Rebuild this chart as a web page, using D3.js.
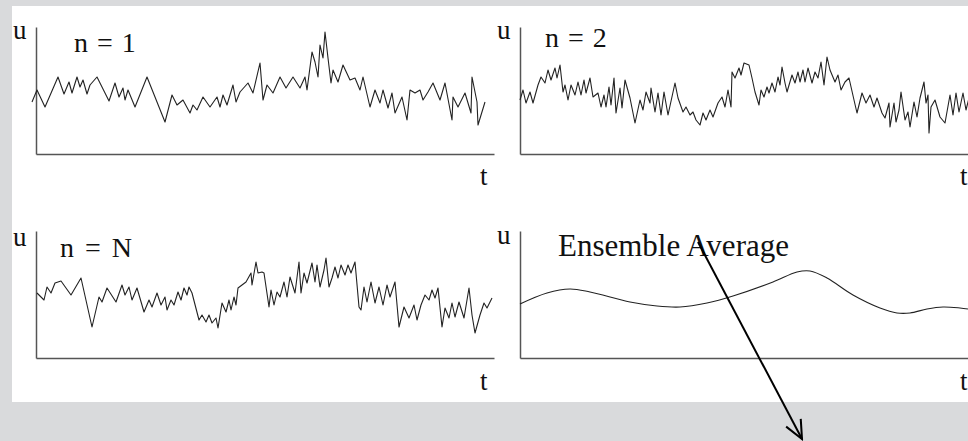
<!DOCTYPE html>
<html>
<head>
<meta charset="utf-8">
<script src="https://cdn.jsdelivr.net/npm/d3@7"></script>
<style>
  html, body { margin: 0; padding: 0; background: #d9dadc; }
  svg { display: block; }
  text { font-family: "Liberation Serif", "Times New Roman", serif; fill: #111; }
</style>
</head>
<body>
<div id="chart"></div>
<script>
// realisations u(t) (t and u in plot units)
const trace1 = [
  [-4,52],[1,64],[9,47],[22,77],[28,60],[33,72],[36,61],[41,77],[44,67],[47,74],[51,60],[54,69],
  [61,77],[73,53],[79,71],[83,57],[87,66],[89,54],[92,64],[99,47],[111,77],[129,32],[136,59],
  [141,49],[147,54],[154,41],[157,49],[161,44],[167,57],[174,47],[181,57],[184,47],[187,59],
  [191,49],[197,69],[200,52],[204,62],[212,71],[217,61],[224,91],[227,54],[231,69],[237,61],
  [244,77],[250,66],[257,77],[264,66],[269,77],[271,64],[276,102],[279,92],[282,77],[284,109],
  [287,96],[289,122],[292,96],[295,71],[297,84],[302,72],[307,89],[314,74],[319,76],[324,64],
  [327,77],[334,47],[339,64],[344,51],[347,64],[352,46],[356,61],[359,41],[366,57],[371,34],
  [374,64],[379,61],[384,64],[387,54],[392,62],[397,71],[404,54],[409,71],[416,34],[417,57],
  [422,47],[429,61],[435,41],[436,77],[441,52],[442,29],[449,52]
];

const trace2 = [
  [0,54],[3,64],[6,51],[10,62],[13,51],[18,69],[21,77],[25,71],[28,84],[31,74],[35,86],[37,76],
  [40,89],[43,62],[45,69],[48,54],[51,69],[55,59],[58,72],[61,59],[64,74],[66,61],[70,76],[73,57],
  [78,61],[81,47],[84,59],[86,47],[89,67],[91,49],[94,76],[96,41],[100,66],[102,46],[105,74],
  [110,56],[115,31],[120,54],[123,44],[126,62],[130,51],[131,66],[135,42],[138,61],[141,39],
  [144,62],[148,39],[155,71],[158,56],[163,42],[166,47],[170,39],[173,42],[176,34],[180,29],
  [183,41],[186,34],[190,44],[193,37],[198,51],[202,57],[205,47],[208,64],[211,47],[212,82],
  [215,76],[219,86],[221,79],[224,91],[229,89],[232,76],[235,62],[239,49],[241,64],[244,57],
  [247,67],[249,61],[252,71],[255,62],[258,77],[260,69],[262,87],[265,71],[267,62],[272,79],
  [275,71],[278,82],[280,72],[283,84],[285,72],[288,86],[292,71],[295,82],[298,76],[301,92],
  [304,69],[307,97],[310,84],[315,72],[318,79],[321,64],[325,72],[329,76],[334,54],[337,41],
  [342,61],[346,51],[350,59],[354,47],[357,56],[362,41],[365,36],[369,51],[370,27],[374,51],
  [376,32],[379,44],[381,62],[385,34],[388,42],[390,27],[394,52],[397,37],[400,56],[404,72],
  [406,51],[408,59],[409,21],[411,47],[415,54],[420,37],[425,31],[430,59],[433,39],[436,61],
  [439,42],[443,61],[446,44],[449,56]
];

const traceN = [
  [1,65],[8,58],[11,71],[15,65],[19,75],[25,77],[35,63],[45,80],[56,31],[63,61],[66,56],[71,70],
  [80,56],[86,73],[89,63],[93,71],[96,58],[101,70],[108,46],[113,58],[116,51],[121,65],[125,53],
  [129,61],[131,48],[135,58],[138,53],[142,66],[145,58],[148,70],[151,63],[153,71],[156,65],
  [163,38],[166,43],[170,36],[173,43],[176,35],[180,40],[182,30],[186,55],[190,46],[193,58],
  [195,48],[198,61],[200,53],[202,70],[210,76],[215,85],[216,73],[220,96],[222,85],[226,86],
  [228,85],[233,51],[235,68],[238,53],[241,66],[244,61],[248,76],[251,61],[254,81],[259,65],
  [263,96],[265,65],[268,85],[271,75],[276,95],[279,76],[281,93],[284,71],[288,88],[290,100],
  [293,71],[296,80],[299,91],[302,80],[305,93],[309,83],[312,93],[315,85],[319,96],[323,51],
  [325,48],[328,71],[331,56],[335,76],[339,55],[343,71],[347,53],[351,73],[354,61],[359,76],
  [363,31],[368,51],[373,40],[378,53],[381,38],[385,53],[389,63],[393,58],[396,68],[399,60],
  [402,70],[406,31],[409,50],[413,40],[416,55],[419,41],[423,56],[428,40],[433,70],[436,43],
  [439,25],[444,43],[448,55],[451,50],[456,60]
];

const ensemble = [
  [0,54],[27,65],[50,69],[70,66],[110,56],[137,52],[160,51],[187,55],[213,62],[253,76],
  [277,86],[290,87],[307,80],[333,63],[360,50],[377,45],[390,45],[407,49],[423,51],[440,50],[448,49]
];

const panelLabels = ["n = 1", "n = 2", "n = N", "Ensemble Average"];
const arrowPts = [[178,116],[282,-81]];   // in ensemble panel units

const width = 968, height = 441;
const plotW = 458, plotH = 127;

const layout = [
  { x0: 36,  y0: 154, data: trace1,   curve: d3.curveLinear,     lx: 74,  ly: 52,  uy: 39,  ty: 185, tx: 480, ws: 2 },
  { x0: 520, y0: 154, data: trace2,   curve: d3.curveLinear,     lx: 545, ly: 47,  uy: 39,  ty: 185, tx: 960, ws: 2 },
  { x0: 36,  y0: 358, data: traceN,   curve: d3.curveLinear,     lx: 60,  ly: 257, uy: 246, ty: 390, tx: 480, ws: 4 },
  { x0: 520, y0: 358, data: ensemble, curve: d3.curveCatmullRom, lx: 558, ly: 256, uy: 244, ty: 390, tx: 960, ws: 0, big: true }
];

const svg = d3.select("#chart").append("svg")
  .attr("width", width)
  .attr("height", height);

svg.append("rect")
  .attr("width", width).attr("height", height)
  .attr("fill", "#d9dadc");

svg.append("rect")
  .attr("x", 12).attr("y", 6)
  .attr("width", width - 12).attr("height", 396)
  .attr("fill", "#ffffff");

svg.append("defs").append("marker")
  .attr("id", "head")
  .attr("viewBox", "0 0 12 12")
  .attr("refX", 11).attr("refY", 6)
  .attr("markerWidth", 11).attr("markerHeight", 11)
  .attr("markerUnits", "strokeWidth")
  .attr("orient", "auto")
  .append("path")
    .attr("d", "M1,1.5 L11,6 L1,10.5")
    .attr("fill", "none")
    .attr("stroke", "#000")
    .attr("stroke-width", 1.1);

let lastX, lastY;

layout.forEach((p, i) => {
  const x = d3.scaleLinear().domain([0, plotW]).range([p.x0, p.x0 + plotW]);
  const y = d3.scaleLinear().domain([0, plotH]).range([p.y0, p.y0 - plotH]);
  const g = svg.append("g");

  g.append("g")
    .attr("transform", `translate(0,${p.y0})`)
    .call(d3.axisBottom(x).tickValues([]).tickSizeOuter(0));
  g.append("g")
    .attr("transform", `translate(${p.x0},0)`)
    .call(d3.axisLeft(y).tickValues([]).tickSizeOuter(0));
  g.selectAll(".domain")
    .attr("stroke", "#555")
    .attr("stroke-width", 1.5);

  const line = d3.line()
    .x(d => x(d[0]))
    .y(d => y(d[1]))
    .curve(p.curve);

  g.append("path")
    .datum(p.data)
    .attr("fill", "none")
    .attr("stroke", "#222")
    .attr("stroke-width", 1.1)
    .attr("stroke-linejoin", "round")
    .attr("d", line);

  g.append("text")
    .attr("x", p.x0 - 23)
    .attr("y", p.uy)
    .attr("font-size", 27)
    .text("u");

  g.append("text")
    .attr("x", p.tx)
    .attr("y", p.ty)
    .attr("font-size", 27)
    .text("t");

  g.append("text")
    .attr("x", p.lx)
    .attr("y", p.ly)
    .attr("font-size", p.big ? 31 : 28)
    .style("word-spacing", p.ws + "px")
    .text(panelLabels[i]);

  lastX = x; lastY = y;
});

svg.append("line")
  .attr("x1", lastX(arrowPts[0][0])).attr("y1", lastY(arrowPts[0][1]))
  .attr("x2", lastX(arrowPts[1][0])).attr("y2", lastY(arrowPts[1][1]))
  .attr("stroke", "#000")
  .attr("stroke-width", 2)
  .attr("marker-end", "url(#head)");
</script>
</body>
</html>
